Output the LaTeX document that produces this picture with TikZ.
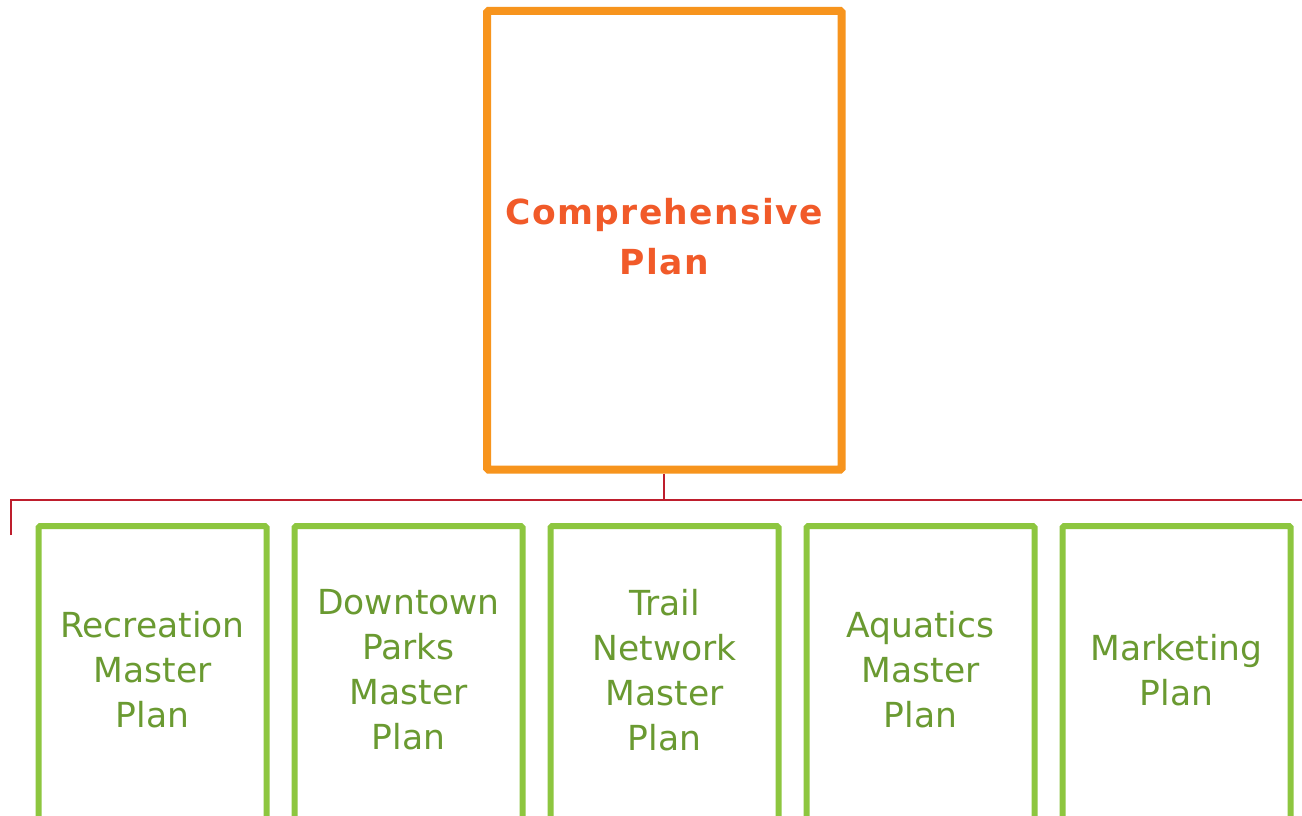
\documentclass[tikz,border=0pt]{standalone}
\usepackage{fontspec}
\setmainfont{DejaVu Sans}
\newfontfamily\planbold[LetterSpace=4]{DejaVu Sans Bold}
\definecolor{planorange}{HTML}{F7941D}
\definecolor{plantext}{HTML}{F15A29}
\definecolor{subgreen}{HTML}{8DC63F}
\definecolor{subtext}{HTML}{6A9A31}
\definecolor{busred}{HTML}{BE1E2D}
\tikzset{
  mainbox/.style={draw=planorange, line width=8pt, rounded corners=1.5pt,
    minimum width=354.7pt, minimum height=458.5pt, inner sep=0pt},
  maintext/.style={align=center, text=plantext, inner sep=0pt,
    font=\planbold\fontsize{34.5}{50}\selectfont},
  subbox/.style={draw=subgreen, line width=6pt, rounded corners=1.5pt,
    minimum width=228pt, minimum height=500pt, anchor=north, inner sep=0pt},
  subtext/.style={align=center, text=subtext, inner sep=0pt,
    font=\fontsize{34.5}{45}\selectfont},
  bus/.style={draw=busred, line width=2pt}
}
\begin{document}
\begin{tikzpicture}[x=1pt, y=-1pt]
  \clip (0,0) rectangle (1302,816);
  \fill[white] (0,0) rectangle (1302,816);

  % top-level plan
  \node[mainbox] (comp) at (664.35,240.25) {};
  \node[maintext] (compT) at ([yshift=3.5pt]comp.center) {Comprehensive\\Plan};

  % bus line feeding the sub-plans
  \coordinate (busL) at (11,500);
  \coordinate (busR) at (1302,500);
  \coordinate (dropL) at (11,535);
  \draw[bus] (dropL) -- (busL) -- (busR);
  \draw[bus] (comp.south) -- (comp.south |- busL);

  % sub-plans
  \node[subbox] (rec) at (152.5,523) {};
  \node[subbox] (dtp) at (408.5,523) {};
  \node[subbox] (trl) at (664.5,523) {};
  \node[subbox] (aqu) at (920.5,523) {};
  \node[subbox] (mkt) at (1176.5,523) {};

  \node[subtext] (recT) at ([yshift=-147pt]rec.north) {Recreation\\Master\\Plan};
  \node[subtext] (dtpT) at ([yshift=-147pt]dtp.north) {Downtown\\Parks\\Master\\Plan};
  \node[subtext] (trlT) at ([yshift=-147pt]trl.north) {Trail\\Network\\Master\\Plan};
  \node[subtext] (aquT) at ([yshift=-147pt]aqu.north) {Aquatics\\Master\\Plan};
  \node[subtext] (mktT) at ([yshift=-147pt]mkt.north) {Marketing\\Plan};
\end{tikzpicture}
\end{document}
